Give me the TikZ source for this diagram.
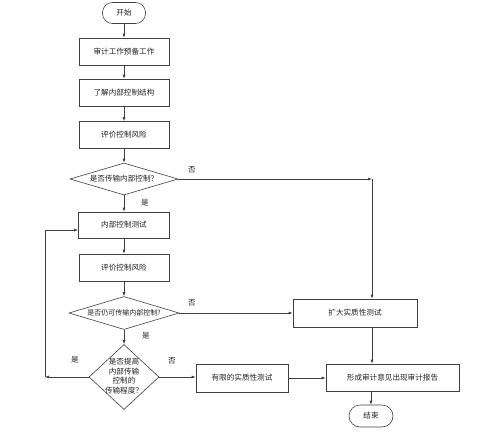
\documentclass[tikz,border=0pt]{standalone}
\usepackage{fontspec}
\newfontfamily\cjk{Noto Sans CJK SC}
\usetikzlibrary{shapes.geometric,arrows.meta}
\definecolor{ln}{HTML}{404040}
\definecolor{tx}{HTML}{222222}
\begin{document}
\begin{tikzpicture}[x=1pt,y=-1pt,
  every node/.style={font=\cjk\fontsize{7.6}{9.5}\selectfont, text=tx},
  box/.style={draw=ln, line width=0.6pt, rectangle, inner sep=0pt, minimum width=90pt, minimum height=27pt},
  term/.style={draw=ln, line width=0.6pt, rectangle, rounded corners=10pt, inner sep=0pt, minimum width=43pt, minimum height=21pt},
  dia/.style={draw=ln, line width=0.6pt, diamond, inner sep=0pt, shape aspect=3},
  arr/.style={draw=ln, line width=0.6pt, -{Latex[length=4pt,width=3pt]}},
  ln/.style={draw=ln, line width=0.6pt},
  lab/.style={inner sep=0pt}]
\useasboundingbox (0,0) rectangle (499,432);
\node[term] (start) at (124,13) {开始};
\node[box] (b1) at (124,51.5) {审计工作预备工作};
\node[box] (b2) at (124,92.5) {了解内部控制结构};
\node[box] (b3) at (124,135) {评价控制风险};
\node[dia, minimum width=108pt, minimum height=32pt] (d1) at (124,179) {};
\node[lab] at (d1.center) {是否传输内部控制？};
\node[box, minimum width=91pt, minimum height=26pt] (b4) at (124,225) {内部控制测试};
\node[box] (b5) at (124,267.5) {评价控制风险};
\node[dia, minimum width=110pt, minimum height=33pt] (d2) at (124,313) {};
\node[lab, font=\cjk\fontsize{7}{8}\selectfont] at (d2.center) {是否仍可传输内部控制?};
\node[dia, minimum width=70pt, minimum height=65pt] (d3) at (124,377) {};
\node[lab, align=center, font=\cjk\fontsize{7.6}{9.8}\selectfont] at ([yshift=1pt]d3.center) {是否提高\\内部传输\\控制的\\传输程度？};
\node[box, minimum width=92pt, minimum height=28pt] (b6) at (242,378) {有限的实质性测试};
\node[box, minimum width=124pt, minimum height=28pt] (b7) at (355,313) {扩大实质性测试};
\node[box, minimum width=133pt, minimum height=27pt] (b8) at (392.5,377.5) {形成审计意见出现审计报告};
\node[term, minimum width=44pt, minimum height=22pt, rounded corners=11pt] (end) at (371,416) {结束};
\coordinate (c1) at (372,179);
\coordinate (c2) at (45,377);
\coordinate (c3) at (45,230);
\draw[arr] (start) -- (b1);
\draw[arr] (b1) -- (b2);
\draw[arr] (b2) -- (b3);
\draw[arr] (b3) -- (d1);
\draw[arr] (d1) -- (b4);
\draw[arr] (b4) -- (b5);
\draw[arr] (b5) -- (d2);
\draw[arr] (d2) -- (d3);
\draw[arr] (d1.east) -- (c1);
\draw[arr] (c1) -- (c1 |- b7.north);
\draw[arr] (c1 |- b7.south) -- (c1 |- b8.north);
\draw[arr] (end.north |- b8.south) -- (end.north);
\draw[arr] (d2.east) -- (b7.west);
\draw[arr] (d3.east) -- (b6.west |- d3.east);
\draw[arr] (b6.east) -- (b8.west |- b6.east);
\draw[arr] (d3.west) -- (c2);
\draw[ln] (c2) -- (c3);
\draw[arr] (c3) -- (b4.west |- c3);
\node[lab] at (192,170) {否};
\node[lab] at (145,203) {是};
\node[lab] at (192,303) {否};
\node[lab] at (146,336) {是};
\node[lab] at (75,360) {是};
\node[lab] at (172,361) {否};
\end{tikzpicture}
\end{document}
